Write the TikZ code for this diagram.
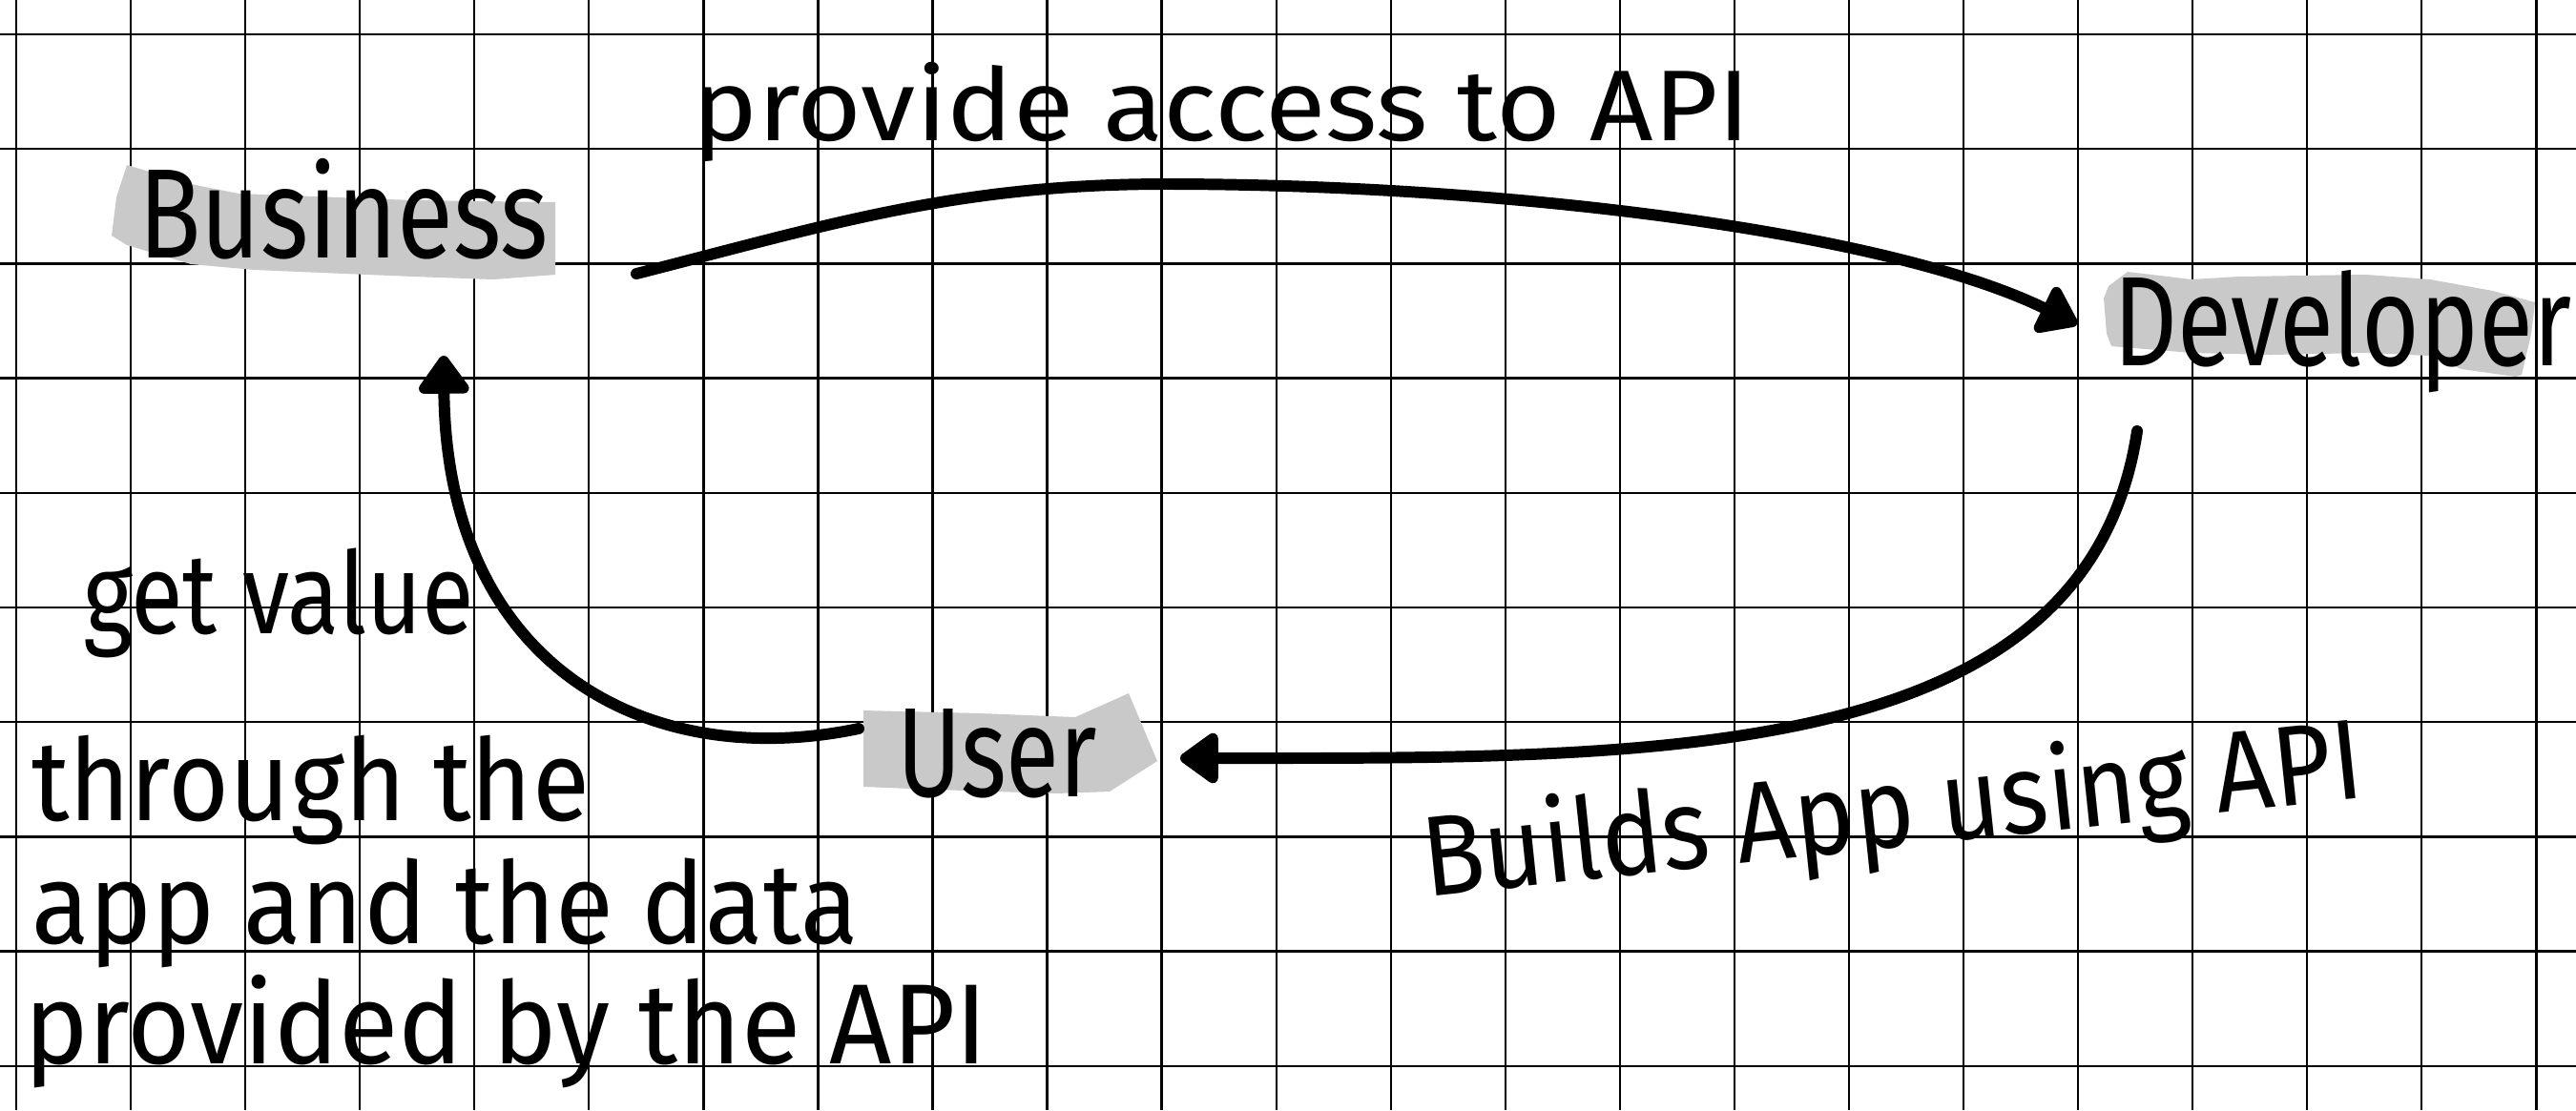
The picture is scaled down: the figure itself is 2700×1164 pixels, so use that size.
\documentclass[tikz,border=0pt]{standalone}
\usepackage{fontspec}
\setmainfont{Fira Sans}
\usepackage{graphicx}
\usetikzlibrary{arrows.meta}
\definecolor{marker}{RGB}{201,201,201}
% squeeze a word to a given width, keeping its height
\newcommand{\hw}[2]{\resizebox{#1}{\height}{#2}}

\begin{document}
\begin{tikzpicture}[x=0.1mm,y=-0.1mm,
  gridline/.style={line width=0.65pt,black},
  hl/.style={fill=marker},
  word/.style={inner sep=0pt,outer sep=0pt,anchor=base west,font=\fontsize{38}{44}\selectfont},
  note/.style={inner sep=0pt,outer sep=0pt,anchor=base west,font=\fontsize{34}{40}\selectfont},
  flow/.style={line width=3.4pt,line cap=round,-{Triangle[length=4.4mm,width=6mm,round]}}
]
\fill[white] (0,0) rectangle (2700,1164);
\useasboundingbox (0,0) rectangle (2700,1164);

% squared paper
\foreach \i in {0,...,22} \draw[gridline] ({17+120.06*\i},0) -- ({17+120.06*\i},1164);
\foreach \j in {0,...,9} \draw[gridline] (0,{36+120.2*\j}) -- (2700,{36+120.2*\j});

% marker strokes behind the three roles
\fill[hl] (117,247) -- (122,207) -- (133,173) -- (200,193) -- (250,203) -- (433,210) -- (582,212)
  -- (582,288) -- (517,293) -- (433,290) -- (267,283) -- (200,277) -- (133,257) -- cycle;
\fill[hl] (2205,313) -- (2210,300) -- (2230,285) -- (2297,293) -- (2347,290) -- (2480,288)
  -- (2547,293) -- (2613,305) -- (2657,317) -- (2653,350) -- (2643,393) -- (2637,395)
  -- (2580,387) -- (2547,373) -- (2480,370) -- (2380,372) -- (2297,370) -- (2213,363)
  -- (2208,350) -- cycle;
\fill[hl] (905,745) -- (1027,748) -- (1127,752) -- (1183,727) -- (1213,798) -- (1163,830)
  -- (1107,832) -- (980,828) -- (905,825) -- cycle;

% roles
\node[word] (biz) at (145,270) {\hw{43mm}{Business}};
\node[word] (dev) at (2215,383) {\hw{48mm}{Developer}};
\node[word] (user) at (940,835) {\hw{21mm}{User}};

% labels
\node[note,font=\fontsize{30}{36}\selectfont] (access) at (725,147) {\hw{111mm}{provide access to API}};
\node[note,rotate=6] (builds) at (1495,940) {\hw{99mm}{Builds App using API}};
\node[note] (value1) at (87,664) {\hw{41mm}{get value}};
\node[note] (value2) at (33,860) {\hw{58.5mm}{through the}};
\node[note] (value3) at (33,989) {\hw{86.7mm}{app and the data}};
\node[note] (value4) at (25,1115) {\hw{101mm}{provided by the API}};

% the cycle
\draw[flow] ([shift={(92,17)}]biz.base east) .. controls (867,236) and (1002,193) .. (1222,193)
  .. controls (1572,193) and (1977,242) .. ([shift={(-38,-43)}]dev.base west);
\draw[flow] ([shift={(25,69)}]dev.base west) .. controls (2187,802) and (1737,795)
  .. ([shift={(87,-40)}]user.base east);
\draw[flow] ([shift={(-40,-71)}]user.base west) .. controls (680,810) and (468,700)
  .. ([shift={(320,103)}]biz.base west);
\end{tikzpicture}
\end{document}
